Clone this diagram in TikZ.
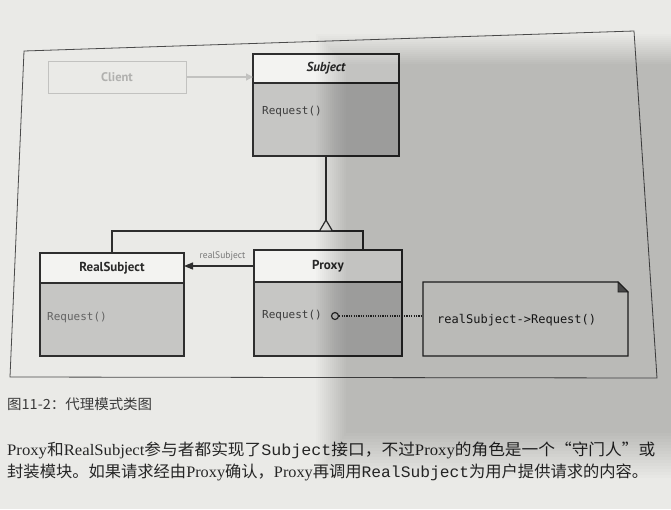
\documentclass[tikz,border=0pt]{standalone}
\usepackage{fontspec}
\usepackage{graphicx}
\setmainfont{Liberation Serif}
\newfontfamily\cjkf{Noto Sans CJK SC}
\newfontfamily\ptsf{PT Sans}
\newfontfamily\dmonof{DejaVu Sans Mono}
\newfontfamily\lmonof{Liberation Mono}
\newfontfamily\lserf{Liberation Serif}
\usetikzlibrary{calc,arrows.meta,shadows}
\definecolor{pagebg}{HTML}{EAEAE7}
\definecolor{hdrfill}{HTML}{F3F3F1}
\definecolor{bodyfill}{HTML}{C6C6C4}
\definecolor{boxline}{HTML}{2E2E2E}
\definecolor{framecol}{HTML}{4A4A4A}
\definecolor{clientline}{HTML}{C2C2C0}
\definecolor{clienttext}{HTML}{B0B0AE}
\definecolor{labelcol}{HTML}{777777}
\definecolor{methcol}{HTML}{3C3C3C}
\definecolor{titlecol}{HTML}{2A2A2A}
\definecolor{notetext}{HTML}{222222}
\definecolor{foldcol}{HTML}{555555}
\definecolor{paratext}{HTML}{262626}
\definecolor{captext}{HTML}{3A3A3A}
\begin{document}
\begin{tikzpicture}[x=1pt,y=-1pt,
  hdr/.style={draw=boxline, line width=1.2pt, fill=hdrfill, inner sep=0pt, outer sep=0pt,
    anchor=north west, font=\ptsf\bfseries\fontsize{13}{15}\selectfont, text=titlecol,
    drop shadow={shadow xshift=1.3pt, shadow yshift=-1.3pt, fill=black, opacity=0.35}},
  bodybox/.style={draw=boxline, line width=1.2pt, fill=bodyfill, inner sep=0pt, outer sep=0pt,
    anchor=north west,
    drop shadow={shadow xshift=1.3pt, shadow yshift=-1.3pt, fill=black, opacity=0.35}},
  meth/.style={anchor=west, inner sep=0pt, font=\dmonof\fontsize{11}{13}\selectfont, text=methcol},
  conn/.style={draw=boxline, line width=1.2pt},
  txt/.style={anchor=base west, inner sep=0pt}
]
\useasboundingbox (0,0) rectangle (671,509);
\fill[pagebg] (0,0) rectangle (671,509);
% frame of the figure
\draw[framecol, line width=0.8pt] (24,51) -- (634,31) -- (657,378) -- (10,377) -- cycle;

% Client
\node[draw=clientline, line width=1pt, fill=pagebg, minimum width=138pt, minimum height=32pt,
  inner sep=0pt, outer sep=0pt, anchor=north west,
  font=\ptsf\bfseries\fontsize{12.5}{14}\selectfont, text=clienttext] (client) at (48,61) {Client};

% Subject
\node[hdr, minimum width=146pt, minimum height=29pt] (subjH) at (253,54) {\itshape Subject};
\node[bodybox, minimum width=146pt, minimum height=73pt] (subjB) at (subjH.south west) {};
\node[meth] (subjReq) at (262,111) {Request()};

% RealSubject
\node[hdr, minimum width=144pt, minimum height=30pt] (rsH) at (40,253) {RealSubject};
\node[bodybox, minimum width=144pt, minimum height=73pt] (rsB) at (rsH.south west) {};
\node[meth, text=methcol!80] (rsReq) at (47,317) {Request()};

% Proxy
\node[hdr, minimum width=148pt, minimum height=32pt] (pxH) at (254,250) {Proxy};
\node[bodybox, minimum width=148pt, minimum height=74pt] (pxB) at (pxH.south west) {};
\node[meth] (pxReq) at (262,315) {Request()};

% Client -> Subject
\draw[clientline, line width=1.2pt, -{Triangle[length=7pt,width=7pt]}]
  (client.east) -- (client.east -| subjH.west);

% generalization
\coordinate (junc) at ($(subjB.south)+(0,75)$);
\coordinate (apex) at ($(junc)+(0,-11)$);
\draw[conn] (subjB.south) -- (apex);
\draw[conn] (rsH.north) |- (junc) -| ($(pxH.north)+(35,0)$);
\draw[conn, fill=pagebg, line join=miter] (apex) -- ($(junc)+(6.5,0)$) -- ($(junc)+(-6.5,0)$) -- cycle;

% association Proxy -> RealSubject
\draw[conn, -{Triangle[length=9pt,width=7pt]}] (pxH.west) -- (pxH.west -| rsH.east)
  node[pos=0.45, above=1.5pt, font=\ptsf\fontsize{9.5}{11}\selectfont, text=labelcol] (assocLbl) {realSubject};

% note
\node[anchor=north west, minimum width=205pt, minimum height=74pt, inner sep=0pt, outer sep=0pt] (note) at (423,282) {};
\node[circle, draw=boxline, line width=1.2pt, fill=bodyfill, minimum size=7pt, inner sep=0pt] (circ) at (335,316) {};
\draw[boxline, line width=1.3pt, dash pattern=on 1.3pt off 1.1pt] (circ.east) -- (circ.east -| note.west);
\draw[conn, line width=1.3pt, fill=pagebg, line join=miter]
  (note.north west) -- ($(note.north east)+(-10,0)$) -- ($(note.north east)+(0,10)$)
  -- (note.south east) -- (note.south west) -- cycle;
\filldraw[foldcol, draw=boxline, line width=0.8pt, line join=miter]
  ($(note.north east)+(-10,0)$) -- ($(note.north east)+(-10,10)$) -- ($(note.north east)+(0,10)$) -- cycle;
\node[anchor=west, inner sep=0pt, font=\dmonof\fontsize{12}{14}\selectfont, text=notetext] (noteTxt) at (437,320) {realSubject->Request()};

% caption and paragraph
\node[txt, text=captext] (cap) at (7,409)
  {\cjkf\fontsize{14}{16}\selectfont\resizebox{145pt}{\height}{图11-2：代理模式类图}};
\node[txt, text=paratext] (para1) at (7,455)
  {\fontsize{16}{18}\selectfont\resizebox{648pt}{\height}{\lserf Proxy\cjkf 和\lserf RealSubject\cjkf 参与者都实现了\lmonof Subject\cjkf 接口，不过\lserf Proxy\cjkf 的角色是一个“守门人”或}};
\node[txt, text=paratext] (para2) at (7,477)
  {\fontsize{16}{18}\selectfont\resizebox{641pt}{\height}{\cjkf 封装模块。如果请求经由\lserf Proxy\cjkf 确认，\lserf Proxy\cjkf 再调用\lmonof RealSubject\cjkf 为用户提供请求的内容。}};

% soft shadow of the photograph
\foreach \i in {0,...,15}{
  \fill[black, fill opacity=0.0125] (316+2*\i, 34+2*\i) rectangle (671, 478-3*\i);
}
\end{tikzpicture}
\end{document}
